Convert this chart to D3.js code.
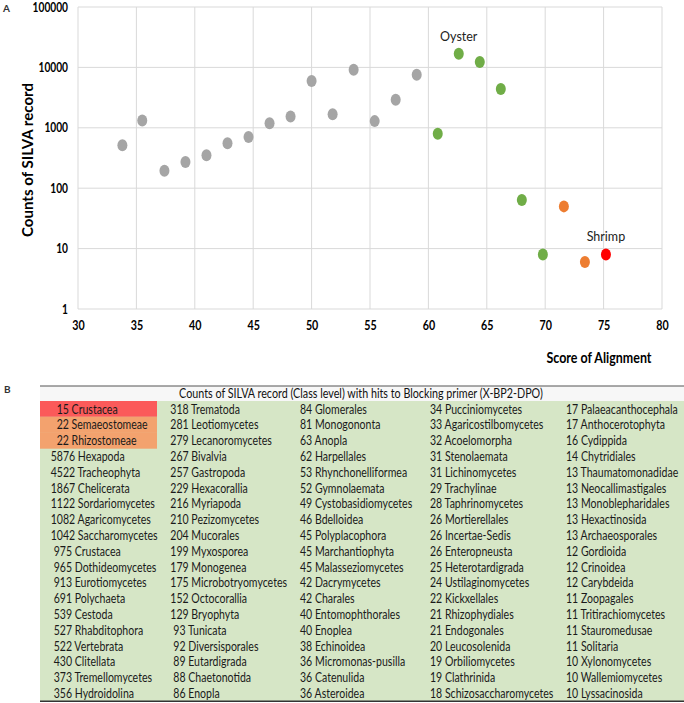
<!DOCTYPE html>
<html><head><meta charset="utf-8">
<script src="https://cdn.jsdelivr.net/npm/d3@7"></script>
<style>body{margin:0;background:#fff}svg{display:block}</style>
</head><body>
<svg id="c" width="684" height="703"></svg>
<script>
// ---- Panel A data ----
const grayScores  = [33.8, 35.5, 37.4, 39.2, 41.0, 42.8, 44.6, 46.4, 48.2, 50.0, 51.8, 53.6, 55.4, 57.2, 59.0];
const grayCounts  = [513, 1325, 194, 272, 351, 553, 703, 1194, 1541, 5970, 1683, 9165, 1290, 2905, 7585];
const greenScores = [60.8, 62.6, 64.4, 66.2, 68.0, 69.8];
const greenCounts = [800, 16830, 12280, 4400, 64, 8];
const orangeScores = [71.6, 73.4];
const orangeCounts = [50, 6];
const redScores = [75.2];
const redCounts = [8];
const xTicks = [30, 35, 40, 45, 50, 55, 60, 65, 70, 75, 80];
const yTicks = [1, 10, 100, 1000, 10000, 100000];
const annotations = [{label: "Oyster", score: 62.6, count: 16830}, {label: "Shrimp", score: 75.2, count: 8}];

// ---- Panel B data ----
const tableTitle = "Counts of SILVA record (Class level) with hits to Blocking primer (X-BP2-DPO)";
const col1 = ["15 Crustacea","22 Semaeostomeae","22 Rhizostomeae","5876 Hexapoda","4522 Tracheophyta","1867 Chelicerata","1122 Sordariomycetes","1082 Agaricomycetes","1042 Saccharomycetes","975 Crustacea","965 Dothideomycetes","913 Eurotiomycetes","691 Polychaeta","539 Cestoda","527 Rhabditophora","522 Vertebrata","430 Clitellata","373 Tremellomycetes","356 Hydroidolina"];
const col2 = ["318 Trematoda","281 Leotiomycetes","279 Lecanoromycetes","267 Bivalvia","257 Gastropoda","229 Hexacorallia","216 Myriapoda","210 Pezizomycetes","204 Mucorales","199 Myxosporea","179 Monogenea","175 Microbotryomycetes","152 Octocorallia","129 Bryophyta","93 Tunicata","92 Diversisporales","89 Eutardigrada","88 Chaetonotida","86 Enopla"];
const col3 = ["84 Glomerales","81 Monogononta","63 Anopla","62 Harpellales","53 Rhynchonelliformea","52 Gymnolaemata","49 Cystobasidiomycetes","46 Bdelloidea","45 Polyplacophora","45 Marchantiophyta","45 Malasseziomycetes","42 Dacrymycetes","42 Charales","40 Entomophthorales","40 Enoplea","38 Echinoidea","36 Micromonas-pusilla","36 Catenulida","36 Asteroidea"];
const col4 = ["34 Pucciniomycetes","33 Agaricostilbomycetes","32 Acoelomorpha","31 Stenolaemata","31 Lichinomycetes","29 Trachylinae","28 Taphrinomycetes","26 Mortierellales","26 Incertae-Sedis","26 Enteropneusta","25 Heterotardigrada","24 Ustilaginomycetes","22 Kickxellales","21 Rhizophydiales","21 Endogonales","20 Leucosolenida","19 Orbiliomycetes","19 Clathrinida","18 Schizosaccharomycetes"];
const col5 = ["17 Palaeacanthocephala","17 Anthocerotophyta","16 Cydippida","14 Chytridiales","13 Thaumatomonadidae","13 Neocallimastigales","13 Monoblepharidales","13 Hexactinosida","13 Archaeosporales","12 Gordioida","12 Crinoidea","12 Carybdeida","11 Zoopagales","11 Tritirachiomycetes","11 Stauromedusae","11 Solitaria","10 Xylonomycetes","10 Wallemiomycetes","10 Lyssacinosida"];
const highlightRed = [0];       // row indices in col1
const highlightOrange = [1, 2];

const svg = d3.select("#c");
const font = "Lato, 'Open Sans', sans-serif";

// ---------- Panel A ----------
const x = d3.scaleLinear().domain([30, 80]).range([78, 662]);
const y = d3.scaleLog().domain([1, 100000]).range([309, 7]);

svg.append("text").attr("x", 3).attr("y", 12).text("A")
  .attr("font-family", font).attr("font-size", 10).attr("font-weight", "bold").attr("fill", "#333");

const grid = svg.append("g");
grid.selectAll("line.v").data(xTicks).join("line")
  .attr("x1", d => x(d)).attr("x2", d => x(d)).attr("y1", y(100000)).attr("y2", y(1))
  .attr("stroke", "#d9d9d9").attr("stroke-width", 1);
grid.selectAll("line.h").data(yTicks).join("line")
  .attr("x1", x(30)).attr("x2", x(80)).attr("y1", d => y(d)).attr("y2", d => y(d))
  .attr("stroke", "#d9d9d9").attr("stroke-width", 1);

const xAxis = svg.append("g").attr("transform", `translate(0,${y(1)})`)
  .call(d3.axisBottom(x).tickValues(xTicks).tickSize(0).tickPadding(12).tickFormat(d3.format("d")));
xAxis.select(".domain").remove();
xAxis.selectAll("text").attr("font-family", font).attr("font-size", 12.5).attr("font-weight", "bold").attr("fill", "#000")
  .attr("textLength", function() { return this.textContent.length * 6.2; }).attr("lengthAdjust", "spacingAndGlyphs");

const yAxis = svg.append("g").attr("transform", `translate(${x(30)},0)`)
  .call(d3.axisLeft(y).tickValues(yTicks).tickSize(0).tickPadding(10).tickFormat(d3.format("d")));
yAxis.select(".domain").remove();
yAxis.selectAll("text").attr("font-family", font).attr("font-size", 12.5).attr("font-weight", "bold").attr("fill", "#000")
  .attr("textLength", function() { return this.textContent.length * 5.9; }).attr("lengthAdjust", "spacingAndGlyphs");

svg.append("text").attr("transform", "translate(33,160) rotate(-90)").attr("text-anchor", "middle")
  .text("Counts of SILVA record").attr("font-family", font).attr("font-size", 15).attr("font-weight", "bold")
  .attr("textLength", 154).attr("lengthAdjust", "spacingAndGlyphs");
svg.append("text").attr("x", 599).attr("y", 363).attr("text-anchor", "middle")
  .text("Score of Alignment").attr("font-family", font).attr("font-size", 15).attr("font-weight", "bold")
  .attr("textLength", 105).attr("lengthAdjust", "spacingAndGlyphs");

const series = [
  {s: grayScores, c: grayCounts, col: "#a5a5a5"},
  {s: greenScores, c: greenCounts, col: "#70ad47"},
  {s: orangeScores, c: orangeCounts, col: "#ed7d31"},
  {s: redScores, c: redCounts, col: "#ff0000"}
];
series.forEach(se => {
  svg.append("g").selectAll("ellipse").data(d3.zip(se.s, se.c)).join("ellipse")
    .attr("cx", d => x(d[0])).attr("cy", d => y(d[1])).attr("rx", 5).attr("ry", 6).attr("fill", se.col);
});
svg.append("g").selectAll("text").data(annotations).join("text")
  .attr("x", d => x(d.score)).attr("y", d => y(d.count) - 13).attr("text-anchor", "middle")
  .text(d => d.label).attr("font-family", font).attr("font-size", 12.5).attr("fill", "#222");

// ---------- Panel B ----------
svg.append("text").attr("x", 4).attr("y", 393).text("B")
  .attr("font-family", font).attr("font-size", 10).attr("font-weight", "bold").attr("fill", "#333");

const tLeft = 40, tRight = 684, tTop = 386, headH = 15, rowH = 15.8;
const rowY = d3.scaleLinear().domain([0, col1.length]).range([tTop + headH, tTop + headH + rowH * col1.length]);
svg.append("rect").attr("x", tLeft).attr("y", tTop).attr("width", tRight - tLeft).attr("height", headH).attr("fill", "#f7f7f7");
svg.append("rect").attr("x", tLeft).attr("y", rowY(0)).attr("width", tRight - tLeft).attr("height", rowY(col1.length) - rowY(0)).attr("fill", "#d6e6c6");
svg.selectAll("rect.red").data(highlightRed).join("rect")
  .attr("x", tLeft).attr("y", d => rowY(d)).attr("width", 117).attr("height", rowH).attr("fill", "#fb5a5a");
svg.selectAll("rect.or").data(highlightOrange).join("rect")
  .attr("x", tLeft).attr("y", d => rowY(d)).attr("width", 117).attr("height", rowH + 0.3).attr("fill", "#f3a26e");
svg.append("line").attr("x1", tLeft).attr("x2", tRight).attr("y1", tTop).attr("y2", tTop).attr("stroke", "#555").attr("stroke-width", 1.2);
svg.append("line").attr("x1", tLeft).attr("x2", tRight).attr("y1", rowY(col1.length)).attr("y2", rowY(col1.length)).attr("stroke", "#333").attr("stroke-width", 1.5);

// measure to emulate the condensed table font
const fsT = 13.5;
const probe = svg.append("text").attr("font-family", font).attr("font-size", fsT).text("22 Semaeostomeae");
const sx = 91 / probe.node().getComputedTextLength();
probe.remove();
const probeH = svg.append("text").attr("font-family", font).attr("font-size", 13.8).text(tableTitle);
const sxH = 364 / probeH.node().getComputedTextLength();
probeH.remove();

svg.append("g").attr("transform", `scale(${sxH},1)`).append("text")
  .attr("x", 361 / sxH).attr("y", tTop + headH / 2 + 4.6).attr("text-anchor", "middle")
  .text(tableTitle).attr("font-family", font).attr("font-size", 13.8).attr("fill", "#111");

const tg = svg.append("g").attr("transform", `scale(${sx},1)`);
const cols = [col1, col2, col3, col4, col5];
const colX = [56.7, 173.3, 300, 430, 566];
cols.forEach((col, ci) => {
  tg.append("g").selectAll("text").data(col).join("text")
    .attr("x", (d) => (colX[ci] - (d.split(" ")[0].length - 2) * 3) / sx)
    .attr("y", (d, i) => rowY(i) + rowH / 2 + 4.7)
    .text(d => d).attr("font-family", font).attr("font-size", fsT).attr("fill", "#1a1a1a");
});
</script>
</body></html>
